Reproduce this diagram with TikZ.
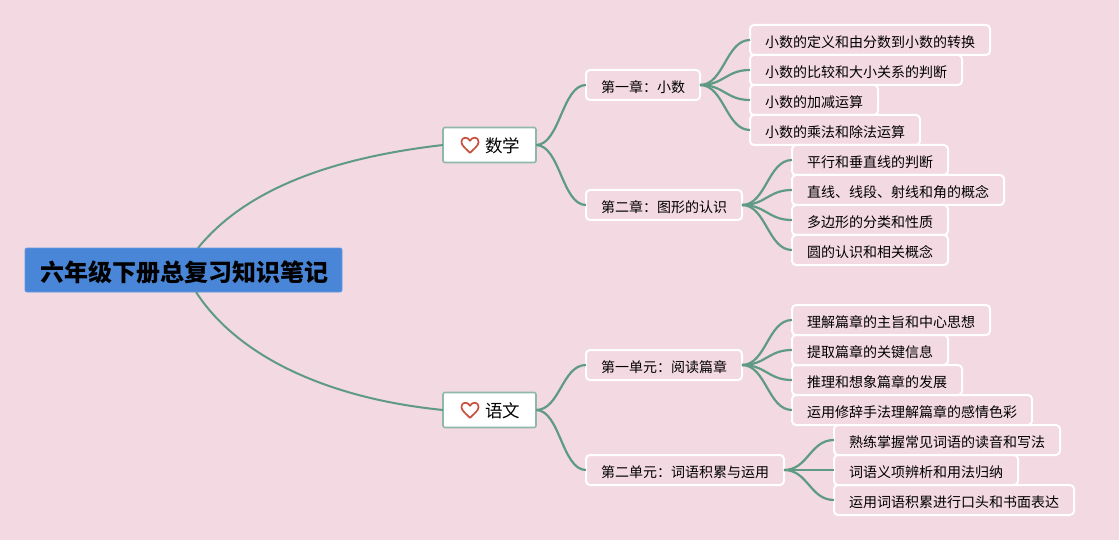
\documentclass[tikz,border=0pt]{standalone}
\usepackage{xcolor}
\usepackage{fontspec}
\setmainfont{Noto Sans CJK SC}
\usetikzlibrary{calc}
\definecolor{pagepink}{HTML}{F3D9E1}
\definecolor{rootblue}{HTML}{4A86D8}
\definecolor{branchgreen}{HTML}{5F9A84}
\definecolor{heartred}{HTML}{C9503F}

\begin{document}
\begin{tikzpicture}[
    x=1pt, y=-1pt,
    every node/.style={font=\fontsize{14}{14}\selectfont, text=black, outer sep=0pt},
    rootbox/.style={fill=rootblue, draw=rootblue!85!white, line width=0.8pt, rounded corners=2pt,
        font=\fontsize{24}{24}\selectfont\bfseries, text height=23pt, text depth=0pt,
        minimum width=317pt, minimum height=44pt, inner sep=0pt, anchor=west},
    subjectbox/.style={fill=white, draw=branchgreen!70!white, line width=1.6pt, rounded corners=2pt,
        font=\fontsize{17.5}{18}\selectfont, text height=15.3pt, text depth=0pt,
        minimum width=93pt, minimum height=35pt, inner sep=0pt, anchor=west},
    topicbox/.style={draw=white, line width=2pt, rounded corners=4pt, inner xsep=15pt, inner ysep=0pt,
        text height=14.6pt, text depth=0pt, minimum height=30pt, anchor=west},
    mainline/.style={draw=branchgreen, line width=2pt},
    twigline/.style={draw=branchgreen, line width=2.2pt},
    heartmark/.pic={\draw[heartred, line width=1.7pt, line join=round]
        (0,7.8) .. controls (-3,4.6) and (-8.6,0.8) .. (-8.6,-3)
        .. controls (-8.6,-8.4) and (-2,-8.6) .. (0,-4.2)
        .. controls (2,-8.6) and (8.6,-8.4) .. (8.6,-3)
        .. controls (8.6,0.8) and (3,4.6) .. (0,7.8) -- cycle;},
]
\fill[pagepink] (0,0) rectangle (1119,540);
% centre and the two subjects
\node[rootbox] (root) at (25,270) {\hspace*{1.5pt}六年级下册总复习知识笔记};
\node[subjectbox] (maths) at (443,145) {\hspace*{26pt}数学};
\node[subjectbox] (chinese) at (443,410) {\hspace*{26pt}语文};
\pic at ($(maths.west)+(27,0)$) {heartmark};
\pic at ($(chinese.west)+(27,0)$) {heartmark};
% chapters
\node[topicbox] (chone) at (586,85) {第一章：小数};
\node[topicbox] (chtwo) at (586,205) {第二章：图形的认识};
\node[topicbox] (unone) at (586,365) {第一单元：阅读篇章};
\node[topicbox] (untwo) at (586,470) {第二单元：词语积累与运用};
% chapter one items
\node[topicbox] (dec) at (750,40) {小数的定义和由分数到小数的转换};
\node[topicbox] (cmp) at (750,70) {小数的比较和大小关系的判断};
\node[topicbox] (add) at (750,100) {小数的加减运算};
\node[topicbox] (mul) at (750,130) {小数的乘法和除法运算};
% chapter two items
\node[topicbox] (par) at (792,160) {平行和垂直线的判断};
\node[topicbox] (lin) at (792,190) {直线、线段、射线和角的概念};
\node[topicbox] (pol) at (792,220) {多边形的分类和性质};
\node[topicbox] (cir) at (792,250) {圆的认识和相关概念};
% unit one items
\node[topicbox] (ide) at (792,320) {理解篇章的主旨和中心思想};
\node[topicbox] (inf) at (792,350) {提取篇章的关键信息};
\node[topicbox] (inr) at (792,380) {推理和想象篇章的发展};
\node[topicbox] (rhe) at (792,410) {运用修辞手法理解篇章的感情色彩};
% unit two items
\node[topicbox] (rea) at (834,440) {熟练掌握常见词语的读音和写法};
\node[topicbox] (mea) at (834,470) {词语义项辨析和用法归纳};
\node[topicbox] (use) at (834,500) {运用词语积累进行口头和书面表达};
% long arcs from the centre
\coordinate (rootup) at (198,248);
\coordinate (rootdown) at (196,292);
\draw[mainline] (rootup) .. controls +(47,-58) and +(-113,13) .. (maths.west);
\draw[mainline] (rootdown) .. controls +(40,62) and +(-120,-12) .. (chinese.west);
% short curved twigs
\foreach \from/\to in {maths/chone, maths/chtwo, chinese/unone, chinese/untwo,
    chone/dec, chone/cmp, chone/add, chone/mul,
    chtwo/par, chtwo/lin, chtwo/pol, chtwo/cir,
    unone/ide, unone/inf, unone/inr, unone/rhe,
    untwo/rea, untwo/mea, untwo/use}
  \draw[twigline] (\from.east) .. controls +(24,0) and +(-24,0) .. (\to.west);
\end{tikzpicture}
\end{document}
